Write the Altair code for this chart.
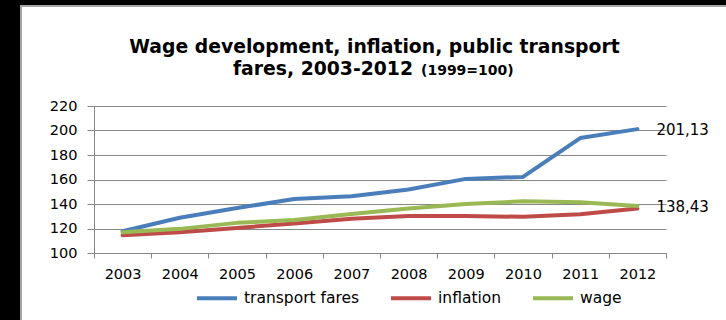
import altair as alt
import pandas as pd

# ---- data ----
years = ["2003", "2004", "2005", "2006", "2007", "2008", "2009", "2010", "2011", "2012"]
transport_fares = [117.8, 128.8, 136.7, 144.0, 146.3, 151.8, 160.5, 162.1, 193.8, 201.13]
inflation = [114.5, 117.0, 120.5, 124.0, 127.9, 130.3, 130.3, 129.5, 131.7, 136.3]
wage = [117.0, 119.7, 124.6, 127.0, 131.9, 136.3, 140.0, 142.2, 141.5, 138.43]
series_names = ["transport fares", "inflation", "wage"]
series_colors = ["#4A7EBB", "#BE4B48", "#98B954"]
end_labels = {"transport fares": "201,13", "wage": "138,43"}
y_ticks = [100, 120, 140, 160, 180, 200, 220]
title_line1 = "Wage development, inflation, public transport"
title_line2a = "fares, 2003-2012"
title_line2b = "(1999=100)"

FONT = "DejaVu Sans"
GRAY = "#878787"

rows = []
for name, vals in zip(series_names, [transport_fares, inflation, wage]):
    for yr, v in zip(years, vals):
        rows.append({"year": yr, "value": v, "series": name})
df = pd.DataFrame(rows)

lab_rows = []
for name, vals in zip(series_names, [transport_fares, inflation, wage]):
    if name in end_labels:
        lab_rows.append({"year": years[-1], "value": vals[-1], "series": name, "label": end_labels[name]})
df_lab = pd.DataFrame(lab_rows)

one = pd.DataFrame({"k": [0]})

x_enc = alt.X("year:O", sort=years, bandPosition=0.5,
              scale=alt.Scale(type="band", domain=years, paddingInner=0, paddingOuter=0),
              axis=alt.Axis(title=None, labelAngle=0, tickBand="extent", tickSize=5,
                            labelPadding=9, grid=False))
y_enc = alt.Y("value:Q", scale=alt.Scale(domain=[100, 220], nice=False, zero=False),
              axis=alt.Axis(title=None, values=y_ticks, tickSize=7, labelPadding=10,
                            grid=True, labelOverlap=False))

lines = alt.Chart(df).mark_line(strokeWidth=4, strokeJoin="round", strokeCap="round").encode(
    x=x_enc,
    y=y_enc,
    color=alt.Color("series:N",
                    scale=alt.Scale(domain=series_names, range=series_colors),
                    legend=alt.Legend(title=None, orient="none", legendX=101, legendY=170,
                                      direction="horizontal", symbolType="stroke",
                                      symbolSize=1600, symbolStrokeWidth=4,
                                      labelFont=FONT, labelFontSize=15.5, labelColor="black",
                                      labelOffset=5, columnPadding=23)),
    detail="series:N",
)

labels = alt.Chart(df_lab).mark_text(align="left", baseline="middle", dx=19, dy=1,
                                     font=FONT, fontSize=15, color="black").encode(
    x=x_enc,
    y=y_enc,
    text="label:N",
)

# decorative frame (black strips + gray border) and title text
strip_left = alt.Chart(one).mark_rect(color="black").encode(
    x=alt.value(-94), x2=alt.value(-74), y=alt.value(-106), y2=alt.value(214))
strip_top = alt.Chart(one).mark_rect(color="black").encode(
    x=alt.value(-94), x2=alt.value(632), y=alt.value(-106), y2=alt.value(-101))
border_v = alt.Chart(one).mark_rule(color="#a5a5a5", strokeWidth=2).encode(
    x=alt.value(-73), y=alt.value(-101), y2=alt.value(214))
border_h = alt.Chart(one).mark_rule(color="#a5a5a5", strokeWidth=2).encode(
    x=alt.value(-74), x2=alt.value(632), y=alt.value(-100))

t1 = alt.Chart(one).mark_text(text=title_line1, font=FONT, fontWeight="bold", fontSize=18.8,
                              align="center", baseline="alphabetic", color="black").encode(
    x=alt.value(280.5), y=alt.value(-53))
t2a = alt.Chart(one).mark_text(text=title_line2a, font=FONT, fontWeight="bold", fontSize=18.8,
                               align="right", baseline="alphabetic", color="black").encode(
    x=alt.value(319), y=alt.value(-31))
t2b = alt.Chart(one).mark_text(text=title_line2b, font=FONT, fontWeight="bold", fontSize=14,
                               align="left", baseline="alphabetic", color="black").encode(
    x=alt.value(327), y=alt.value(-31))

chart = alt.layer(
    strip_left, strip_top, border_v, border_h, lines, labels, t1, t2a, t2b
).properties(
    width=572, height=147,
    autosize=alt.AutoSizeParams(type="none"),
    padding={"left": 94, "top": 106, "right": 60, "bottom": 67},
    background="white",
).configure_view(
    stroke="transparent"
).configure_axis(
    labelFont=FONT, labelFontSize=14.5, labelColor="black",
    domainColor=GRAY, tickColor=GRAY, gridColor=GRAY, domainWidth=1, gridWidth=1,
)

chart.save("out.html", embed_options={"renderer": "svg", "actions": False})
